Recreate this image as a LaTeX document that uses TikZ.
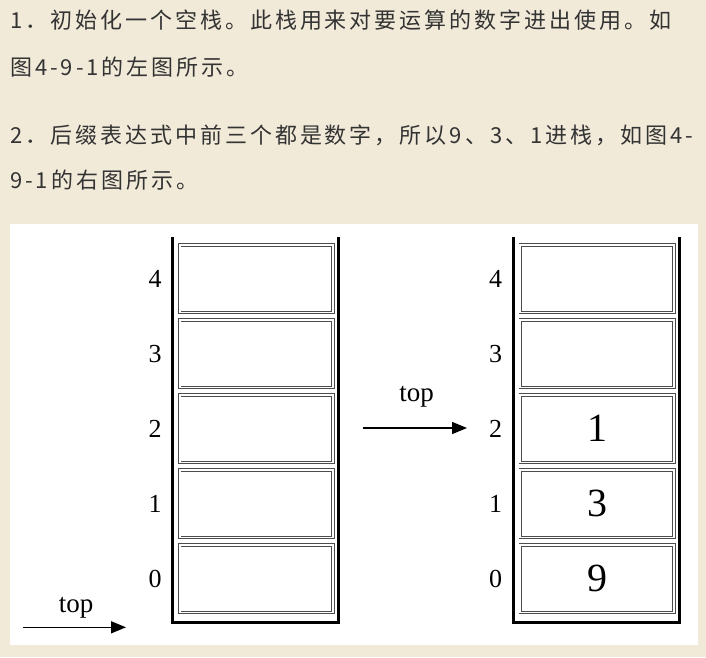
\documentclass[tikz,border=0pt]{standalone}
\usepackage{fontspec}
\setmainfont{Liberation Serif}
\newfontfamily\cjk[LetterSpace=13.5]{Noto Sans CJK SC}
\usetikzlibrary{arrows.meta}
\definecolor{bg}{HTML}{F2EAD9}
\definecolor{txt}{HTML}{333333}
\begin{document}
\begin{tikzpicture}[x=1pt,y=-1pt,
  para/.style={anchor=base west, inner sep=0, text=txt, font=\cjk\fontsize{22}{22}\selectfont},
  wall/.style={line width=3.3pt, line join=miter},
  cell/.style={draw=black!70, double=white, double distance=1.7pt, line width=0.9pt,
    minimum width=153.5pt, minimum height=67.5pt, inner sep=0, font=\fontsize{40}{40}\selectfont},
  idx/.style={inner sep=0, font=\fontsize{26}{26}\selectfont},
  toplbl/.style={inner sep=0, anchor=base, font=\fontsize{27}{27}\selectfont},
  ptr/.style={line width=1.4pt, -{Triangle[length=15pt,width=12pt]}}
]
\fill[bg] (0,0) rectangle (706,657);
\useasboundingbox (0,0) rectangle (706,657);
\fill[white] (10,224) rectangle (698,645);

\node[para] (t1) at (10,28.5) {1．初始化一个空栈。此栈用来对要运算的数字进出使用。如};
\node[para] (t2) at (10,75.5) {图4-9-1的左图所示。};
\node[para] (t3) at (10,143.5) {2．后缀表达式中前三个都是数字，所以9、3、1进栈，如图4-};
\node[para] (t4) at (10,188.5) {9-1的右图所示。};

% left stack
\draw[wall] (172.7,237) -- (172.7,622.5) -- (338.5,622.5) -- (338.5,237);
\foreach \i in {0,...,4}{
  \node[cell] (L\i) at (256.4,{578.6-75*\i}) {};
  \node[idx] (Li\i) at (155,{578.6-75*\i}) {\i};
}
% right stack
\draw[wall] (513.3,237) -- (513.3,622.5) -- (679.5,622.5) -- (679.5,237);
\node[cell] (R0) at (597,578.6) {9};
\node[cell] (R1) at (597,503.6) {3};
\node[cell] (R2) at (597,428.6) {1};
\node[cell] (R3) at (597,353.6) {};
\node[cell] (R4) at (597,278.6) {};
\foreach \i in {0,...,4}{
  \node[idx] (Ri\i) at (495.5,{578.6-75*\i}) {\i};
}

% top pointers
\coordinate (pa) at (23,627.3);
\coordinate (pb) at (126,627.3);
\draw[ptr] (pa) -- (pb);
\node[toplbl] (topL) at (76,612) {top};
\coordinate (qa) at (363,428);
\coordinate (qb) at (467,428);
\draw[ptr] (qa) -- (qb);
\node[toplbl] (topR) at (416.5,401) {top};
\end{tikzpicture}
\end{document}
